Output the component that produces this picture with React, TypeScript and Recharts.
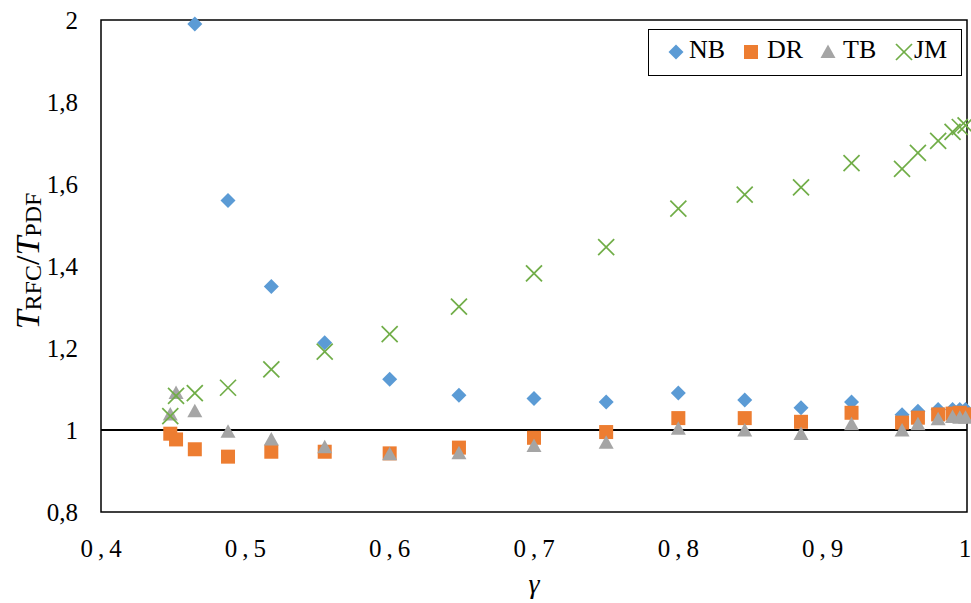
import React from "react";
import { ScatterChart, Scatter, XAxis, YAxis, ReferenceLine, ReferenceArea } from "recharts";

const gamma = [0.448, 0.452, 0.465, 0.488, 0.518, 0.555, 0.6, 0.648, 0.7, 0.75, 0.8, 0.846, 0.885, 0.92, 0.955, 0.966, 0.98, 0.99, 0.995, 0.999];
const nbValues: (number | null)[] = [null, null, 1.99, 1.56, 1.35, 1.213, 1.124, 1.085, 1.077, 1.068, 1.09, 1.073, 1.054, 1.068, 1.037, 1.046, 1.05, 1.05, 1.05, 1.05];
const drValues = [0.991, 0.977, 0.953, 0.935, 0.947, 0.947, 0.943, 0.957, 0.981, 0.995, 1.029, 1.029, 1.02, 1.042, 1.018, 1.03, 1.038, 1.04, 1.042, 1.038];
const tbValues = [1.038, 1.09, 1.046, 0.996, 0.977, 0.958, 0.941, 0.943, 0.961, 0.969, 1.003, 0.999, 0.99, 1.014, 0.999, 1.014, 1.026, 1.032, 1.03, 1.03];
const jmValues = [1.034, 1.083, 1.09, 1.103, 1.148, 1.191, 1.234, 1.301, 1.382, 1.446, 1.54, 1.574, 1.592, 1.651, 1.637, 1.676, 1.705, 1.727, 1.739, 1.743];

const xTicks = [0.4, 0.5, 0.6, 0.7, 0.8, 0.9, 1];
const yTicks = [0.8, 1, 1.2, 1.4, 1.6, 1.8, 2];
const seriesNames = ["NB", "DR", "TB", "JM"];

const COLORS = { NB: "#5B9BD5", DR: "#ED7D31", TB: "#A5A5A5", JM: "#70AD47" };
const FONT = "'Liberation Serif', 'Times New Roman', serif";

const toPoints = (vals: (number | null)[]) =>
  gamma.map((g, i) => ({ x: g, y: vals[i] })).filter((p) => p.y !== null);

const fmt = (v: number) => String(Math.round(v * 10) / 10).replace(".", ",");

const Diamond = (p: any) => {
  const { cx, cy } = p;
  return <polygon points={`${cx},${cy - 7.5} ${cx + 7.5},${cy} ${cx},${cy + 7.5} ${cx - 7.5},${cy}`} fill={COLORS.NB} />;
};
const Square = (p: any) => {
  const { cx, cy } = p;
  return <rect x={cx - 7} y={cy - 7} width={14} height={14} fill={COLORS.DR} />;
};
const Triangle = (p: any) => {
  const { cx, cy } = p;
  return <polygon points={`${cx},${cy - 7.5} ${cx + 7.5},${cy + 6} ${cx - 7.5},${cy + 6}`} fill={COLORS.TB} />;
};
const Cross = (p: any) => {
  const { cx, cy } = p;
  const s = 8;
  return (
    <g stroke={COLORS.JM} strokeWidth={1.7}>
      <line x1={cx - s} y1={cy - s} x2={cx + s} y2={cy + s} />
      <line x1={cx - s} y1={cy + s} x2={cx + s} y2={cy - s} />
    </g>
  );
};

const XTick = (p: any) => {
  const { x, y, payload } = p;
  const isOne = payload.value === 1;
  return (
    <text x={isOne ? x - 2 : x + 2.5} y={y + 36} textAnchor="middle" dominantBaseline="central" fontFamily={FONT} fontSize={25} letterSpacing={isOne ? 0 : 5} fill="#000">
      {fmt(payload.value)}
    </text>
  );
};
const YTick = (p: any) => {
  const { x, y, payload } = p;
  return (
    <text x={x - 23} y={y} textAnchor="end" dominantBaseline="central" fontFamily={FONT} fontSize={25} fill="#000">
      {fmt(payload.value)}
    </text>
  );
};

const YLabel = () => (
  <text x={27} y={261} transform="rotate(-90, 27, 261)" textAnchor="middle" dominantBaseline="central" fontFamily={FONT} fontSize={34} fill="#000">
    <tspan fontStyle="italic">T</tspan>
    <tspan fontSize={24} dy={6}>RFC</tspan>
    <tspan dy={-6}>/</tspan>
    <tspan fontStyle="italic">T</tspan>
    <tspan fontSize={24} dy={6}>PDF</tspan>
  </text>
);

const XLabel = () => (
  <text x={534} y={583} textAnchor="middle" dominantBaseline="central" fontFamily={FONT} fontSize={28} fontStyle="italic" fill="#000">
    γ
  </text>
);

const legendIcon = (name: string) => {
  const c = 10;
  if (name === "NB") return <polygon points={`${c},${c - 7.5} ${c + 7.5},${c} ${c},${c + 7.5} ${c - 7.5},${c}`} fill={COLORS.NB} />;
  if (name === "DR") return <rect x={c - 7} y={c - 7} width={14} height={14} fill={COLORS.DR} />;
  if (name === "TB") return <polygon points={`${c},${c - 7.5} ${c + 7.5},${c + 6} ${c - 7.5},${c + 6}`} fill={COLORS.TB} />;
  return (
    <g stroke={COLORS.JM} strokeWidth={1.7}>
      <line x1={c - 8} y1={c - 8} x2={c + 8} y2={c + 8} />
      <line x1={c - 8} y1={c + 8} x2={c + 8} y2={c - 8} />
    </g>
  );
};

const legendIconX = [27, 102, 179, 255];
const legendTextX = [40, 118, 194, 265];

export default function App() {
  return (
    <div style={{ position: "fixed", left: 0, top: 0, width: 971, height: 603, background: "#fff" }}>
      <ScatterChart width={971} height={603} margin={{ top: 20, right: 4, bottom: 0, left: 0 }}>
        <XAxis
          type="number"
          dataKey="x"
          domain={[0.4, 1]}
          ticks={xTicks}
          height={91}
          axisLine={false}
          tickLine={false}
          tickSize={0}
          tickMargin={0}
          tick={<XTick />}
          label={{ content: () => <XLabel /> }}
          interval={0}
        />
        <YAxis
          type="number"
          dataKey="y"
          domain={[0.8, 2]}
          ticks={yTicks}
          width={101}
          axisLine={false}
          tickLine={false}
          tickSize={0}
          tickMargin={0}
          tick={<YTick />}
          label={{ content: () => <YLabel /> }}
          interval={0}
        />
        <ReferenceArea x1={0.4} x2={1} y1={0.8} y2={2} fill="none" fillOpacity={0} stroke="#000" strokeWidth={1.5} />
        <ReferenceLine y={1} stroke="#000" strokeWidth={2} />
        <Scatter name="NB" data={toPoints(nbValues)} shape={<Diamond />} isAnimationActive={false} />
        <Scatter name="DR" data={toPoints(drValues)} shape={<Square />} isAnimationActive={false} />
        <Scatter name="TB" data={toPoints(tbValues)} shape={<Triangle />} isAnimationActive={false} />
        <Scatter name="JM" data={toPoints(jmValues)} shape={<Cross />} isAnimationActive={false} />
      </ScatterChart>
      <div
        style={{
          position: "absolute",
          left: 648,
          top: 29,
          width: 314,
          height: 47,
          boxSizing: "border-box",
          border: "1.5px solid #000",
          background: "#fff",
          fontFamily: FONT,
          fontSize: 26,
        }}
      >
        {seriesNames.map((name, i) => (
          <React.Fragment key={name}>
            <svg width={20} height={20} style={{ position: "absolute", left: legendIconX[i] - 10, top: 12 }}>
              {legendIcon(name)}
            </svg>
            <span style={{ position: "absolute", left: legendTextX[i], top: 5, lineHeight: "30px" }}>{name}</span>
          </React.Fragment>
        ))}
      </div>
    </div>
  );
}
